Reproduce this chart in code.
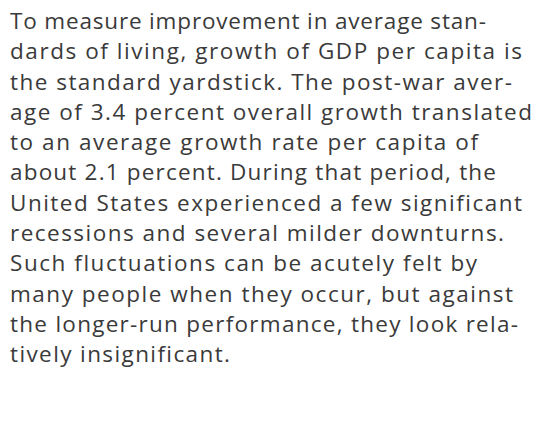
<!DOCTYPE html>
<html>
<head>
<meta charset="utf-8">
<script src="https://cdn.jsdelivr.net/npm/chart.js@4"></script>
<style>
  html, body { margin: 0; padding: 0; background: #fff; }
  body { width: 536px; height: 444px; overflow: hidden; }
  #text {
    position: absolute;
    left: 10px;
    top: 6px;
    font-family: "Open Sans", sans-serif;
    font-weight: 400;
    font-size: 22.5px;
    line-height: 30.3px;
    color: #3a3a3a;
    white-space: pre;
  }
  #text div { height: 30.3px; }
  #text span { display: inline-block; }
</style>
</head>
<body>
<div id="text"></div>
<script>
const lines = [
  "To measure improvement in average stan-",
  "dards of living, growth of GDP per capita is",
  "the standard yardstick. The post-war aver-",
  "age of 3.4 percent overall growth translated",
  "to an average growth rate per capita of",
  "about 2.1 percent. During that period, the",
  "United States experienced a few significant",
  "recessions and several milder downturns.",
  "Such fluctuations can be acutely felt by",
  "many people when they occur, but against",
  "the longer-run performance, they look rela-",
  "tively insignificant."
]
// where each line ends in the reference (px from the left edge)
const lineEnds = [487, 523, 513, 533, 479, 497, 523, 505, 478, 514, 519, 231]
const textLeft = 11

const box = document.getElementById("text")
lines.forEach((line, i) => {
  const row = document.createElement("div")
  const span = document.createElement("span")
  span.textContent = line
  row.appendChild(span)
  box.appendChild(row)

  // spread the letters so the line is as long as in the reference
  const natural = span.getBoundingClientRect().width
  const target = lineEnds[i] - textLeft
  span.style.letterSpacing = ((target - natural) / (line.length - 1)) + "px"
})
</script>
</body>
</html>
